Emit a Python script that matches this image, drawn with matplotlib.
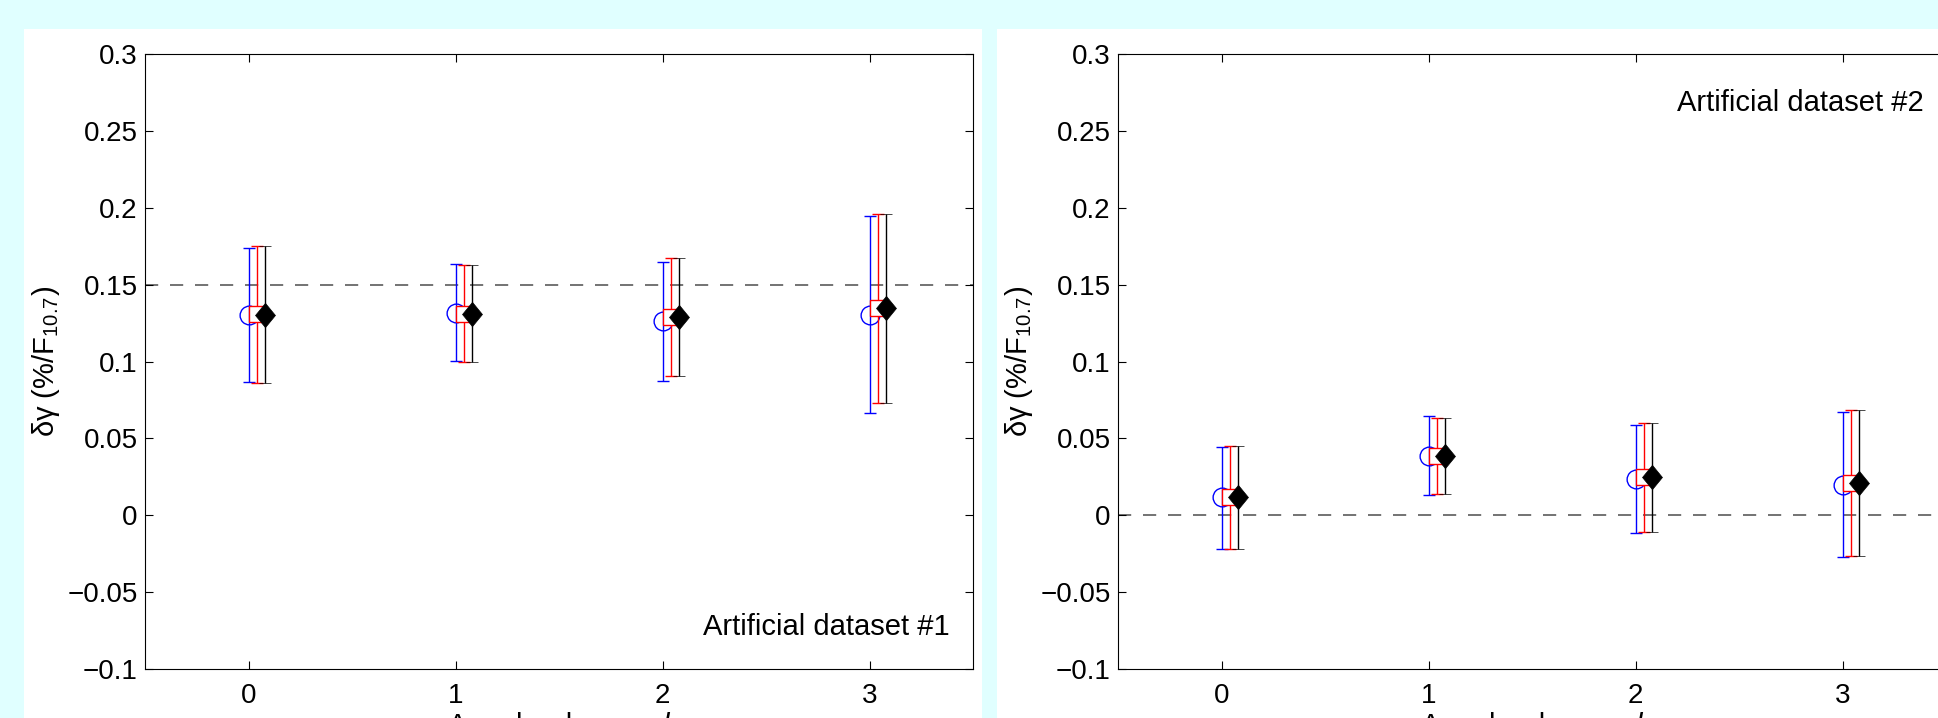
import matplotlib
matplotlib.use('Agg')
import matplotlib.pyplot as plt
from matplotlib.patches import Rectangle
import numpy as np

plt.rcParams['font.family'] = ['Liberation Sans', 'DejaVu Sans']
plt.rcParams['mathtext.fontset'] = 'custom'
plt.rcParams['mathtext.rm'] = 'Liberation Sans'
plt.rcParams['mathtext.it'] = 'Liberation Sans:italic'
plt.rcParams['mathtext.bf'] = 'Liberation Sans:bold'
plt.rcParams['lines.scale_dashes'] = False

# ---------------- data ----------------
degrees = [0, 1, 2, 3]
xtick_labels = ['0', '1', '2', '3']
yticks = [-0.1, -0.05, 0, 0.05, 0.1, 0.15, 0.2, 0.25, 0.3]
ytick_labels = ['\u22120.1', '\u22120.05', '0', '0.05', '0.1', '0.15', '0.2', '0.25', '0.3']
dataset_titles = ['Artificial dataset #1', 'Artificial dataset #2']
input_values = [0.15, 0.0]

# dataset #1
blue_val1 = [0.1302, 0.1317, 0.1261, 0.1304]
blue_lo1 = [0.0865, 0.1005, 0.0871, 0.0663]
blue_hi1 = [0.1738, 0.1632, 0.1649, 0.1949]
red_val1 = [0.1308, 0.1311, 0.1292, 0.1350]
red_lo1 = [0.0862, 0.0995, 0.0904, 0.0732]
red_hi1 = [0.1749, 0.1626, 0.1675, 0.1959]
black_val1 = [0.1304, 0.1309, 0.1292, 0.1346]
black_lo1 = [0.0862, 0.0995, 0.0904, 0.0732]
black_hi1 = [0.1749, 0.1626, 0.1675, 0.1959]

# dataset #2
blue_val2 = [0.0117, 0.0385, 0.0234, 0.0197]
blue_lo2 = [-0.0222, 0.0134, -0.0113, -0.0274]
blue_hi2 = [0.0446, 0.0646, 0.0585, 0.0672]
red_val2 = [0.0117, 0.0385, 0.0247, 0.0212]
red_lo2 = [-0.0220, 0.0136, -0.0107, -0.0263]
red_hi2 = [0.0450, 0.0635, 0.0598, 0.0682]
black_val2 = [0.0117, 0.0385, 0.0247, 0.0212]
black_lo2 = [-0.0220, 0.0136, -0.0107, -0.0263]
black_hi2 = [0.0450, 0.0635, 0.0598, 0.0682]

datasets = [
    [(blue_val1, blue_lo1, blue_hi1), (red_val1, red_lo1, red_hi1), (black_val1, black_lo1, black_hi1)],
    [(blue_val2, blue_lo2, blue_hi2), (red_val2, red_lo2, red_hi2), (black_val2, black_lo2, black_hi2)],
]

# ---------------- layout ----------------
W, H = 1938, 718
fig = plt.figure(figsize=(W / 100, H / 100), dpi=100, facecolor='#E0FFFF')

def fx(px):
    return px / W

def fy(py):
    return (H - py) / H

# white panel backgrounds
for x0, x1 in [(24, 982), (997, 1960)]:
    fig.add_artist(Rectangle((fx(x0), fy(760)), fx(x1) - fx(x0), fy(29) - fy(760),
                             transform=fig.transFigure, facecolor='white',
                             edgecolor='none', zorder=-10))

axes_left_px = [145, 1118]
ax_w_px = 828
ax_top_px, ax_bot_px = 54, 669

diamond = [(0, 1), (0.82, 0), (0, -1), (-0.82, 0), (0, 1)]
styles = [
    dict(color='blue', marker='o', mfc='none', mec='blue', ms=13.5, mew=1.0, off=0.0, z=3),
    dict(color='red', marker='s', mfc='white', mec='red', ms=11.3, mew=1.0, off=0.04, z=4),
    dict(color='black', marker=diamond, mfc='black', mec='black', ms=17.5, mew=0.5, off=0.08, z=5),
]

text_pos = [(0.972, 0.0553), (0.9734, 0.9073)]

for i in range(2):
    ax = fig.add_axes([fx(axes_left_px[i]), fy(ax_bot_px), ax_w_px / W,
                       (ax_bot_px - ax_top_px) / H])
    ax.set_facecolor('white')
    ax.axhline(input_values[i], color='0.3', lw=1.1, dashes=(9.5, 8.5), zorder=1)
    for (vals, lo, hi), st in zip(datasets[i], styles):
        v = np.array(vals)
        err = [v - np.array(lo), np.array(hi) - v]
        ax.errorbar(np.array(degrees) + st['off'], v, yerr=err, linestyle='none',
                    marker=st['marker'], mfc=st['mfc'], mec=st['mec'], ms=st['ms'],
                    mew=st['mew'], ecolor=st['color'], elinewidth=1.0, capsize=4,
                    capthick=1.0, zorder=st['z'])
    ax.set_xlim(-0.5, 3.5)
    ax.set_ylim(-0.1, 0.3)
    ax.set_xticks(degrees, labels=xtick_labels)
    ax.set_yticks(yticks, labels=ytick_labels)
    ax.tick_params(axis='both', direction='in', length=5.8, width=0.8,
                   top=True, right=True, labelsize=20, colors='black')
    ax.tick_params(axis='x', pad=10)
    ax.tick_params(axis='y', pad=5.3)
    for sp in ax.spines.values():
        sp.set_linewidth(0.8)
        sp.set_color('black')
    ax.set_ylabel('\u03b4\u03b3 (%/F$_{10.7}$)', fontsize=21)
    ax.yaxis.set_label_coords(-0.1002, 0.5)
    ax.set_xlabel('Angular degree, $l$', fontsize=21)
    ax.xaxis.set_label_coords(0.5, -0.0667)
    ax.text(text_pos[i][0], text_pos[i][1], dataset_titles[i], transform=ax.transAxes,
            ha='right', va='baseline', fontsize=21)

fig.savefig('out.png', dpi=100, facecolor=fig.get_facecolor())
